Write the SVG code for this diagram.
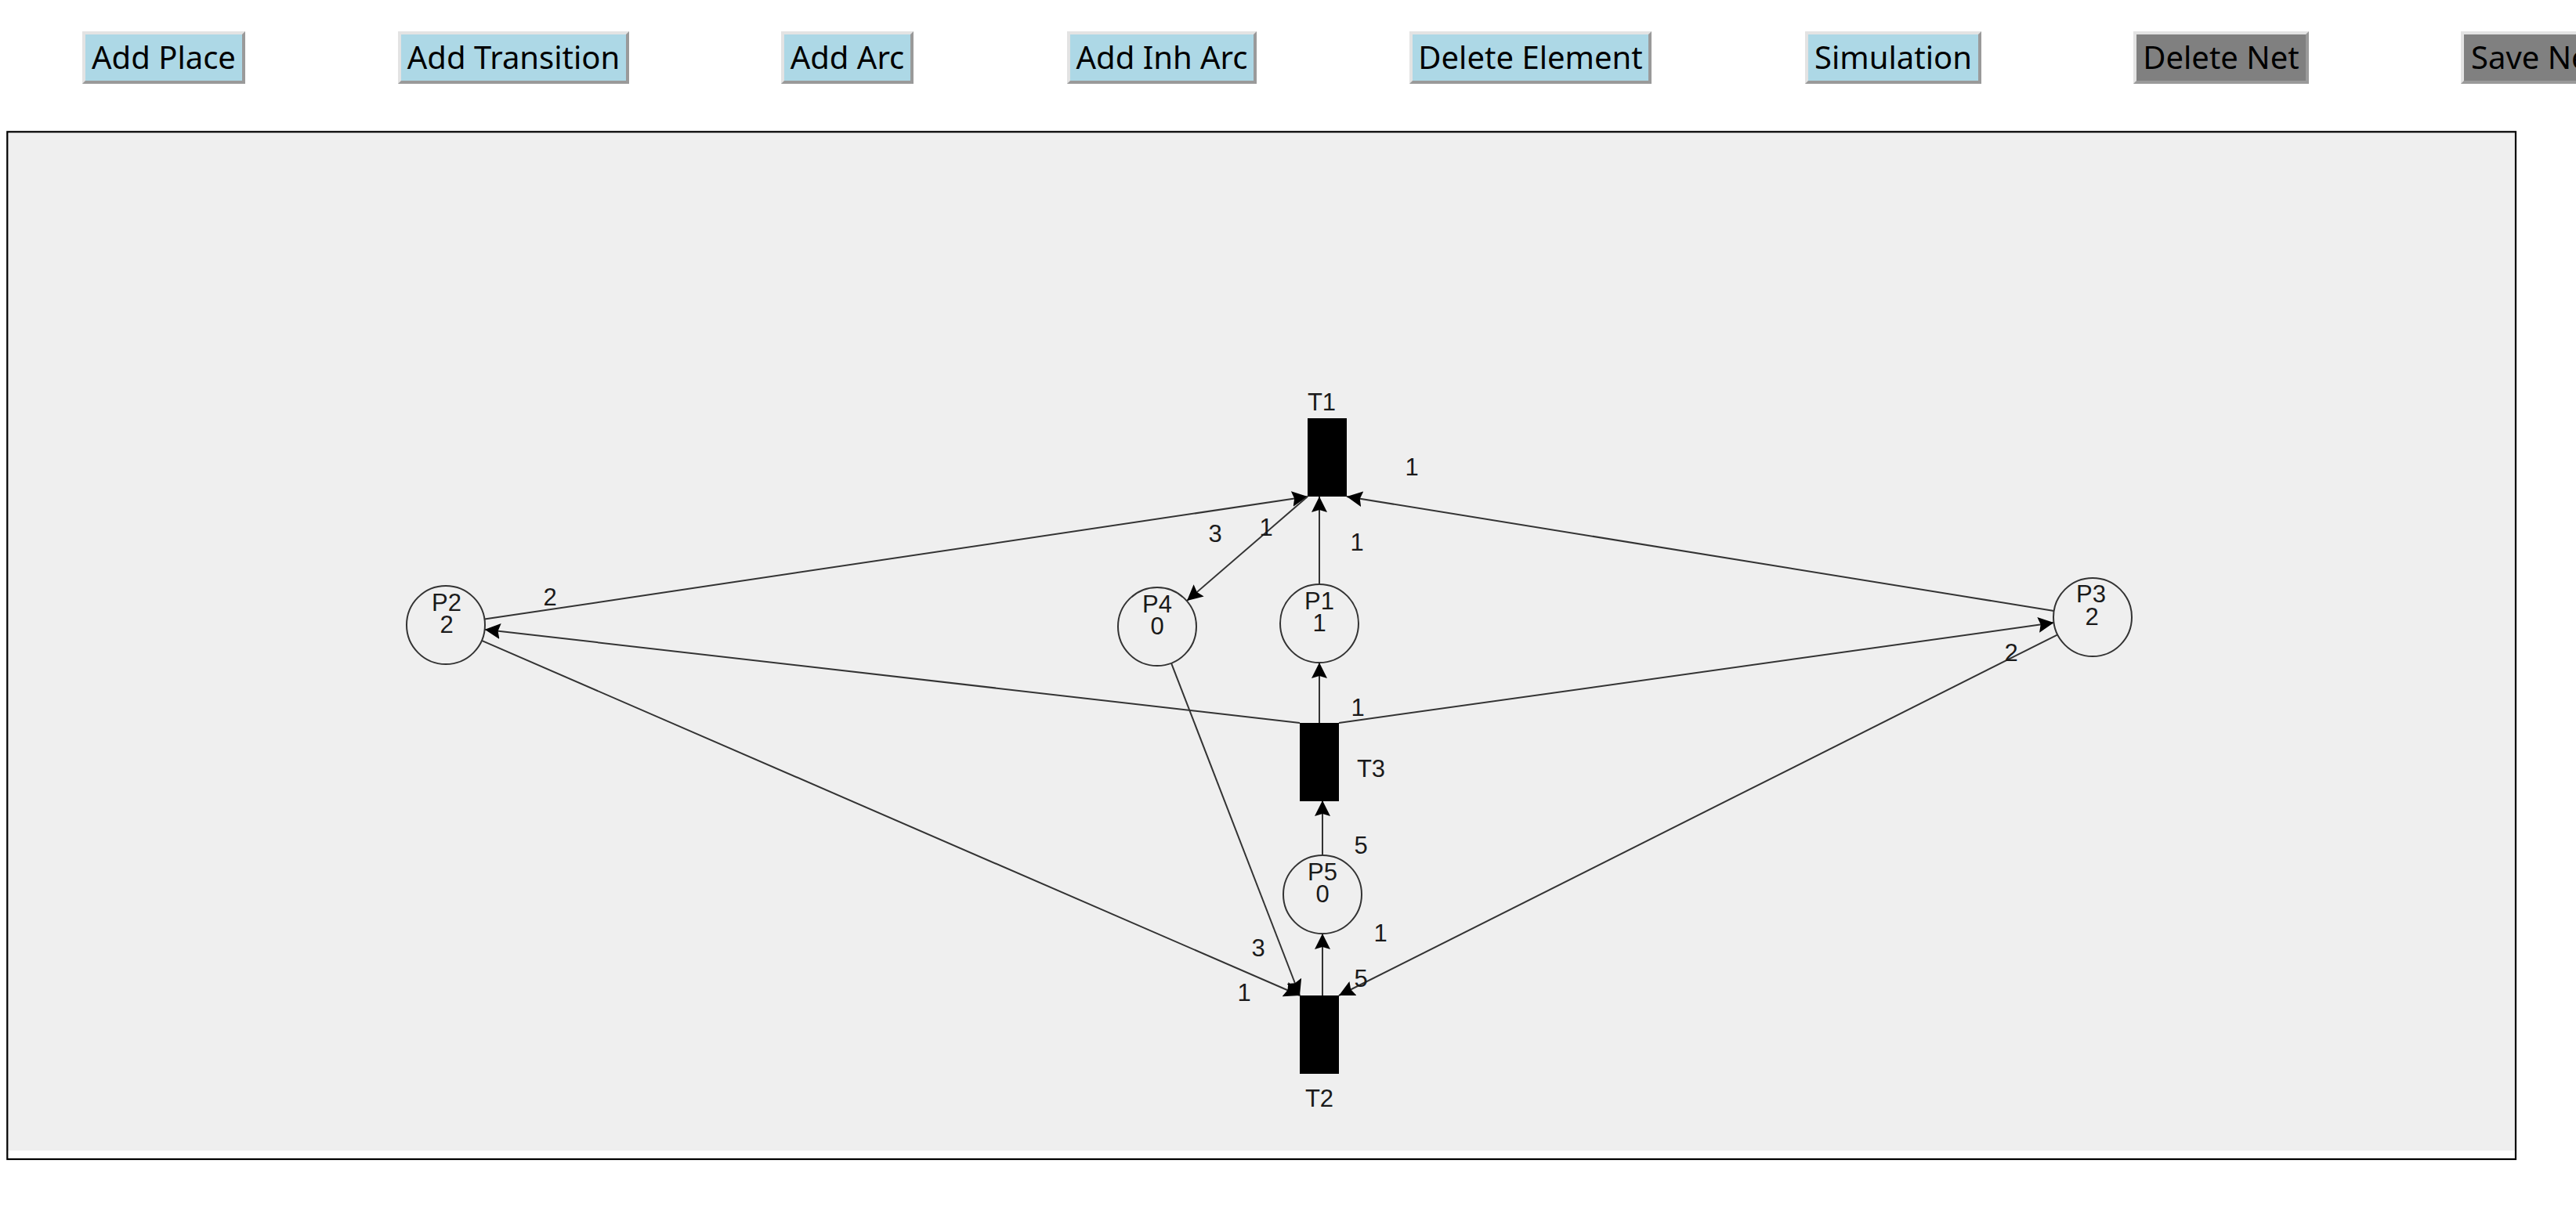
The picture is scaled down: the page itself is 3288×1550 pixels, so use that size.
<svg xmlns="http://www.w3.org/2000/svg" width="3288" height="1550" viewBox="0 0 3288 1550">
<defs>
<style>
.btxt{font-family:"Noto Sans","Open Sans","DejaVu Sans",sans-serif;font-size:40px;fill:#000;text-anchor:middle}
.lite{fill:#e3e3e3}
.dark{fill:#9a9a9a}
.blue{fill:#add8e6}
.grey{fill:#808080}
.t{font-family:"Liberation Sans",Arial,sans-serif;font-size:31px;fill:#1a1a1a;text-anchor:middle}
.place{fill:none;stroke:#333;stroke-width:2}
.trans{fill:#000}
.arc{stroke:#333;stroke-width:2;fill:none;marker-end:url(#ah)}
</style>
<marker id="ah" viewBox="0 0 20 20" refX="20" refY="10" markerWidth="20" markerHeight="20" markerUnits="userSpaceOnUse" orient="auto">
<path d="M0,0 L20,10 L0,20 L3,10 Z" fill="#000"/>
</marker>
</defs>
<rect width="3288" height="1550" fill="#fff"/>

<g id="toolbar">
<g id="btn-add-place">
<rect class="dark" x="105" y="40" width="208" height="67"/>
<polygon class="lite" points="105,40 313,40 309,44 109,44 109,103 105,107"/>
<rect class="blue" x="109" y="44" width="200" height="59"/>
<text class="btxt" x="209" y="88">Add Place</text>
</g>
<g id="btn-add-transition">
<rect class="dark" x="508" y="40" width="295" height="67"/>
<polygon class="lite" points="508,40 803,40 799,44 512,44 512,103 508,107"/>
<rect class="blue" x="512" y="44" width="287" height="59"/>
<text class="btxt" x="655.5" y="88">Add Transition</text>
</g>
<g id="btn-add-arc">
<rect class="dark" x="997" y="40" width="169" height="67"/>
<polygon class="lite" points="997,40 1166,40 1162,44 1001,44 1001,103 997,107"/>
<rect class="blue" x="1001" y="44" width="161" height="59"/>
<text class="btxt" x="1081.5" y="88">Add Arc</text>
</g>
<g id="btn-add-inh-arc">
<rect class="dark" x="1362" y="40" width="242" height="67"/>
<polygon class="lite" points="1362,40 1604,40 1600,44 1366,44 1366,103 1362,107"/>
<rect class="blue" x="1366" y="44" width="234" height="59"/>
<text class="btxt" x="1483" y="88">Add Inh Arc</text>
</g>
<g id="btn-delete-element">
<rect class="dark" x="1799" y="40" width="309" height="67"/>
<polygon class="lite" points="1799,40 2108,40 2104,44 1803,44 1803,103 1799,107"/>
<rect class="blue" x="1803" y="44" width="301" height="59"/>
<text class="btxt" x="1953.5" y="88">Delete Element</text>
</g>
<g id="btn-simulation">
<rect class="dark" x="2304" y="40" width="225" height="67"/>
<polygon class="lite" points="2304,40 2529,40 2525,44 2308,44 2308,103 2304,107"/>
<rect class="blue" x="2308" y="44" width="217" height="59"/>
<text class="btxt" x="2416.5" y="88">Simulation</text>
</g>
<g id="btn-delete-net">
<rect class="dark" x="2723" y="40" width="224" height="67"/>
<polygon class="lite" points="2723,40 2947,40 2943,44 2727,44 2727,103 2723,107"/>
<rect class="grey" x="2727" y="44" width="216" height="59"/>
<text class="btxt" x="2835" y="88">Delete Net</text>
</g>
<g id="btn-save-net">
<rect class="dark" x="3141" y="40" width="190" height="67"/>
<polygon class="lite" points="3141,40 3331,40 3327,44 3145,44 3145,103 3141,107"/>
<rect class="grey" x="3145" y="44" width="182" height="59"/>
<text class="btxt" x="3154" y="88" style="text-anchor:start">Save Net</text>
</g>
</g>

<g id="canvas">
<rect x="10" y="169" width="3200" height="1300" fill="#efefef"/>
<rect x="9.3" y="168.3" width="3201.7" height="1311.7" fill="none" stroke="#000" stroke-width="2.2"/>
</g>

<g id="connectors">
<line class="arc" x1="618.5" y1="790.6" x2="1669" y2="634"/>
<line class="arc" x1="1669" y1="634" x2="1515" y2="767"/>
<line class="arc" x1="1684" y1="746" x2="1684" y2="634"/>
<line class="arc" x1="2621.6" y1="780" x2="1719" y2="634"/>
<line class="arc" x1="1659" y1="923" x2="618.7" y2="803.7"/>
<line class="arc" x1="1684" y1="923" x2="1684" y2="846"/>
<line class="arc" x1="1709" y1="923" x2="2621.5" y2="795"/>
<line class="arc" x1="1688" y1="1092" x2="1688" y2="1022"/>
<line class="arc" x1="1688" y1="1271" x2="1688" y2="1192"/>
<line class="arc" x1="614.9" y1="817.9" x2="1659" y2="1271"/>
<line class="arc" x1="1495" y1="846.6" x2="1659" y2="1271"/>
<line class="arc" x1="2626.3" y1="810.4" x2="1709" y2="1271"/>
<g id="arc-weights">
<text class="t" x="702" y="773">2</text>
<text class="t" x="1551" y="692">3</text>
<text class="t" x="1616" y="684">1</text>
<text class="t" x="1732" y="703">1</text>
<text class="t" x="1802" y="607">1</text>
<text class="t" x="1733" y="914">1</text>
<text class="t" x="1737" y="1090">5</text>
<text class="t" x="2567" y="844">2</text>
<text class="t" x="1606" y="1221">3</text>
<text class="t" x="1588" y="1278">1</text>
<text class="t" x="1762" y="1202">1</text>
<text class="t" x="1737" y="1260">5</text>
</g>
</g>

<g id="T1">
<rect class="trans" x="1669" y="534" width="50" height="100"/>
<text class="t" x="1687" y="524">T1</text>
</g>
<g id="T3">
<rect class="trans" x="1659" y="923" width="50" height="100"/>
<text class="t" x="1750" y="992">T3</text>
</g>
<g id="T2">
<rect class="trans" x="1659" y="1271" width="50" height="100"/>
<text class="t" x="1684" y="1413">T2</text>
</g>
<g id="P1">
<circle class="place" cx="1684" cy="796" r="50"/>
<text class="t" x="1684" y="778">P1</text>
<text class="t" x="1684" y="806">1</text>
</g>
<g id="P2">
<circle class="place" cx="569" cy="798" r="50"/>
<text class="t" x="570" y="780">P2</text>
<text class="t" x="570" y="808">2</text>
</g>
<g id="P3">
<circle class="place" cx="2671" cy="788" r="50"/>
<text class="t" x="2669" y="769">P3</text>
<text class="t" x="2670" y="798">2</text>
</g>
<g id="P4">
<circle class="place" cx="1477" cy="800" r="50"/>
<text class="t" x="1477" y="782">P4</text>
<text class="t" x="1477" y="810">0</text>
</g>
<g id="P5">
<circle class="place" cx="1688" cy="1142" r="50"/>
<text class="t" x="1688" y="1124">P5</text>
<text class="t" x="1688" y="1152">0</text>
</g>
</svg>
